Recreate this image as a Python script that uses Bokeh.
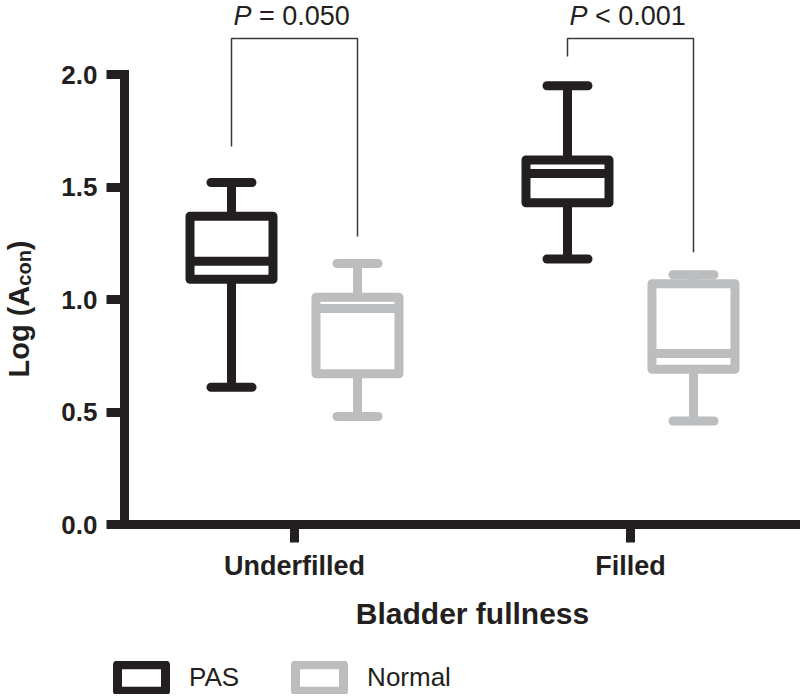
import numpy as np
from bokeh.plotting import figure
from bokeh.models import (ColumnDataSource, FixedTicker, PrintfTickFormatter, Label,
                          Legend, LegendItem, Range1d)
from bokeh.embed import file_html
from bokeh.resources import INLINE

# ---------------- data ----------------
categories = ["Underfilled", "Filled"]
cat_x = [1, 2]

pas_low = [0.61, 1.18]
pas_q1 = [1.09, 1.43]
pas_median = [1.17, 1.56]
pas_q3 = [1.37, 1.62]
pas_high = [1.52, 1.95]

normal_low = [0.48, 0.46]
normal_q1 = [0.67, 0.69]
normal_median = [0.96, 0.76]
normal_q3 = [1.01, 1.07]
normal_high = [1.16, 1.11]

p_values = ["= 0.050", "< 0.001"]
bracket_top = [2.16, 2.16]
bracket_left_end = [1.68, 2.08]
bracket_right_end = [1.28, 1.21]

y_ticks = [0.0, 0.5, 1.0, 1.5, 2.0]

# ---------------- style ----------------
DARK = "#231f20"
GREY = "#bbbdbf"
FONT = "Liberation Sans"
OFFSET = 0.1875
BOX_W = 0.247
CAP_W = 0.122
LW = 9
W, H = 800, 696
X0_AXIS = 0.494          # data x where the y axis sits

p = figure(width=W, height=H,
           x_range=Range1d(0.125, 2.506), y_range=Range1d(-0.7644, 2.3289),
           output_backend="svg", toolbar_location=None,
           min_border_left=0, min_border_right=0, min_border_top=0, min_border_bottom=0)
p.outline_line_color = None
p.grid.visible = False
p.background_fill_color = "white"
p.border_fill_color = "white"

# axes (fixed inside the frame so that nothing is clipped)
for ax in (p.xaxis[0], p.yaxis[0]):
    ax.axis_line_width = LW
    ax.axis_line_color = DARK
    ax.axis_line_cap = "square"
    ax.major_tick_line_width = LW
    ax.major_tick_line_color = DARK
    ax.major_tick_out = 18
    ax.major_tick_in = 0
    ax.minor_tick_out = 0
    ax.minor_tick_in = 0
    ax.major_label_text_font = FONT
    ax.major_label_text_font_style = "bold"
    ax.major_label_text_color = DARK

p.xaxis.fixed_location = 0
p.xaxis.bounds = (X0_AXIS, 2.6)
p.xaxis.ticker = FixedTicker(ticks=cat_x)
p.xaxis.major_label_overrides = {x: c for x, c in zip(cat_x, categories)}
p.xaxis.major_label_text_font_size = "27px"
p.xaxis.major_label_standoff = 8

p.yaxis.fixed_location = X0_AXIS
p.yaxis.ticker = FixedTicker(ticks=y_ticks)
p.yaxis.formatter = PrintfTickFormatter(format="%.1f")
p.yaxis.bounds = (y_ticks[0], y_ticks[-1])
p.yaxis.major_label_text_font_size = "26px"
p.yaxis.major_label_standoff = 9


def draw_series(offset, low, q1, med, q3, high, color):
    x = np.array(cat_x, dtype=float) + offset
    src = ColumnDataSource(dict(
        x=x, low=low, q1=q1, med=med, q3=q3, high=high,
        bx0=x - BOX_W / 2, bx1=x + BOX_W / 2,
        cx0=x - CAP_W / 2, cx1=x + CAP_W / 2))
    p.segment(x0="x", y0="q3", x1="x", y1="high", source=src, line_width=LW, line_color=color)
    p.segment(x0="x", y0="q1", x1="x", y1="low", source=src, line_width=LW, line_color=color)
    p.segment(x0="cx0", y0="high", x1="cx1", y1="high", source=src, line_width=LW,
              line_color=color, line_cap="round")
    p.segment(x0="cx0", y0="low", x1="cx1", y1="low", source=src, line_width=LW,
              line_color=color, line_cap="round")
    box = p.vbar(x="x", width=BOX_W, bottom="q1", top="q3", source=src,
                 fill_color="white", line_color=color, line_width=LW, line_join="round")
    p.segment(x0="bx0", y0="med", x1="bx1", y1="med", source=src, line_width=LW, line_color=color)
    return box


pas_box = draw_series(-OFFSET, pas_low, pas_q1, pas_median, pas_q3, pas_high, DARK)
normal_box = draw_series(OFFSET, normal_low, normal_q1, normal_median, normal_q3, normal_high, GREY)

# significance brackets
xs, ys = [], []
for i, cx in enumerate(cat_x):
    xl, xr = cx - OFFSET, cx + OFFSET
    xs.append([xl, xl, xr, xr])
    ys.append([bracket_left_end[i], bracket_top[i], bracket_top[i], bracket_right_end[i]])
p.multi_line(xs=xs, ys=ys, line_color="#3a3a3a", line_width=1.5)

P_BASE = H - 15   # screen units from the bottom of the canvas
for i, cx in enumerate(cat_x):
    p.add_layout(Label(x=cx, y=P_BASE, x_units="data", y_units="screen", x_offset=-43,
                       text="P", text_font=FONT, text_font_style="italic",
                       text_font_size="27px", text_color=DARK,
                       text_align="right", text_baseline="alphabetic"))
    p.add_layout(Label(x=cx, y=P_BASE, x_units="data", y_units="screen", x_offset=-35.5,
                       text=p_values[i], text_font=FONT,
                       text_font_size="27px", text_color=DARK,
                       text_align="left", text_baseline="alphabetic"))

# y axis title with subscript (screen units from the canvas bottom-left)
F_MAIN, F_SUB = 29, 20
w_main = 3.166 * F_MAIN
w_sub = 1.778 * F_SUB
ty0 = H - 377
TX = 18
p.add_layout(Label(x=TX, y=ty0, x_units="screen", y_units="screen", angle=90, angle_units="deg",
                   text="Log (A", text_font=FONT, text_font_style="bold",
                   text_font_size=f"{F_MAIN}px", text_color=DARK,
                   text_align="left", text_baseline="alphabetic"))
p.add_layout(Label(x=TX + 5, y=ty0 + w_main, x_units="screen", y_units="screen", angle=90,
                   angle_units="deg", text="con", text_font=FONT, text_font_style="bold",
                   text_font_size=f"{F_SUB}px", text_color=DARK,
                   text_align="left", text_baseline="alphabetic"))
p.add_layout(Label(x=TX, y=ty0 + w_main + w_sub, x_units="screen", y_units="screen", angle=90,
                   angle_units="deg", text=")", text_font=FONT, text_font_style="bold",
                   text_font_size=f"{F_MAIN}px", text_color=DARK,
                   text_align="left", text_baseline="alphabetic"))

# x axis title
p.add_layout(Label(x=472, y=H - 613, x_units="screen", y_units="screen",
                   text="Bladder fullness", text_font=FONT, text_font_style="bold",
                   text_font_size="30px", text_color=DARK,
                   text_align="center", text_baseline="alphabetic"))

# legend
legend = Legend(items=[LegendItem(label="PAS", renderers=[pas_box]),
                       LegendItem(label="Normal", renderers=[normal_box])],
                orientation="horizontal", location=(111, 2),
                glyph_width=60, glyph_height=33, label_standoff=18, spacing=50,
                padding=0, margin=0, border_line_color=None, background_fill_alpha=0,
                label_text_font=FONT, label_text_font_size="26px", label_text_color=DARK)
p.add_layout(legend)

open("out.html", "w").write(file_html(p, INLINE))
